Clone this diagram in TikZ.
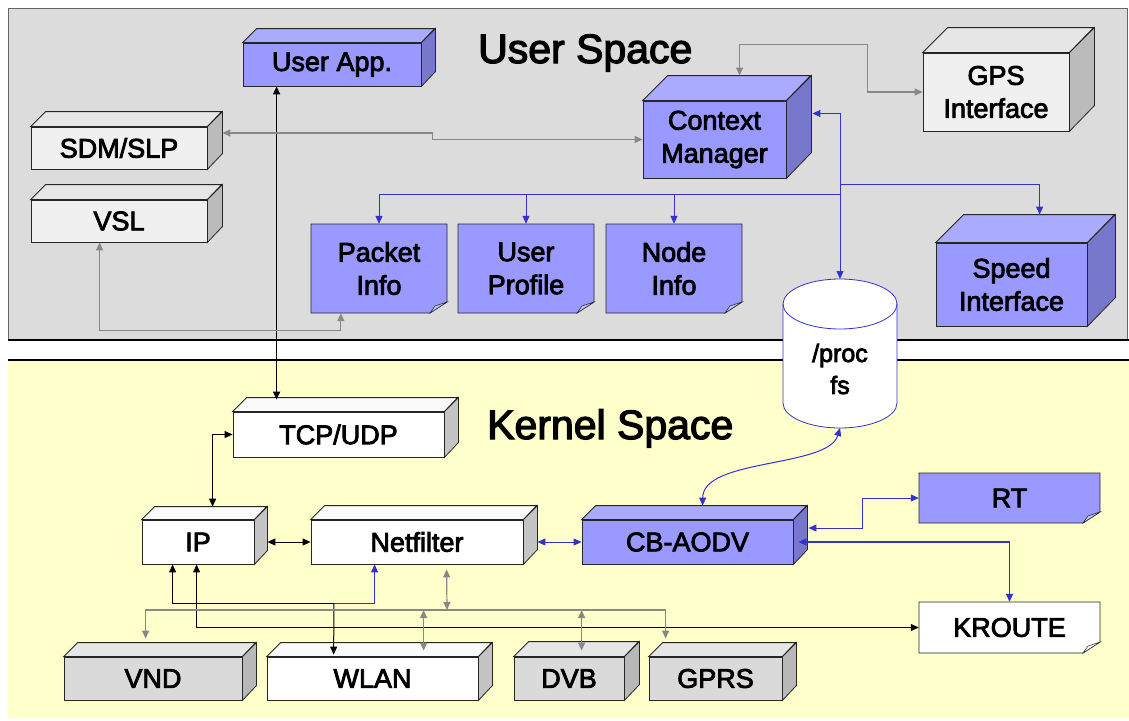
\documentclass[tikz,border=0pt]{standalone}
\usepackage{fontspec}
\setmainfont{Liberation Sans}
\newfontfamily\heavyfam{Liberation Sans}[FakeBold=3]
\usetikzlibrary{arrows.meta,calc}
\definecolor{blfront}{HTML}{9999FF}
\definecolor{bltop}{HTML}{AAAAFF}
\definecolor{blside}{HTML}{7777CC}
\definecolor{ugfront}{HTML}{F0F0F0}
\definecolor{ugtop}{HTML}{E6E6E6}
\definecolor{ugside}{HTML}{BBBBBB}
\definecolor{whfront}{HTML}{FFFFFF}
\definecolor{whtop}{HTML}{FAFAFA}
\definecolor{whside}{HTML}{C4C4C4}
\definecolor{kgfront}{HTML}{DADADA}
\definecolor{kgtop}{HTML}{E6E6E6}
\definecolor{kgside}{HTML}{B8B8B8}
\definecolor{usergray}{HTML}{DCDCDC}
\definecolor{kernyellow}{HTML}{FFFFCC}
\definecolor{linkblue}{HTML}{3333CC}
\definecolor{linkgray}{HTML}{888888}
\newcommand{\bxfont}{\heavyfam\fontsize{27}{33}\selectfont}
\newcommand{\hdfont}{\heavyfam\fontsize{41}{48}\selectfont}
\newcommand{\procfont}{\heavyfam\fontsize{25}{32}\selectfont}
% cube: name, x1, y1, x2, y2, depth, kind, text
\newcommand{\cube}[8]{%
  \node[cubefront, fill=#7front, minimum width={(#4-#2)*1pt}, minimum height={(#5-#3)*1pt}] (#1) at ({(#2+#4)/2},{(#3+#5)/2}) {#8};
  \filldraw[edge, fill=#7top] (#1.north west) -- ++(#6,-#6) -- ++({#4-#2},0) -- (#1.north east) -- cycle;
  \filldraw[edge, fill=#7side] (#1.north east) -- ++(#6,-#6) -- ++(0,{#5-#3}) -- (#1.south east) -- cycle;
}
% note: name, x1, y1, x2, y2, fill, text
\newcommand{\note}[7]{%
  \filldraw[edge, fill=#6] ({#2},{#3}) -- ({#4},{#3}) -- ({#4},{#5-11}) -- ({#4-17},{#5}) -- ({#2},{#5}) -- cycle;
  \filldraw[edge, line width=0.5pt, fill=#6!55!white] ({#4},{#5-11}) -- ({#4-12},{#5-7}) -- ({#4-17},{#5}) -- cycle;
  \node[notetext, minimum width={(#4-#2)*1pt}, minimum height={(#5-#3)*1pt}] (#1) at ({(#2+#4)/2},{(#3+#5)/2}) {#7};
}
\begin{document}
\begin{tikzpicture}[x=1pt,y=-1pt, >={Triangle[length=8pt,width=7pt]},
  edge/.style={draw=black!85, line width=0.8pt},
  cubefront/.style={edge, inner sep=0pt, align=center, font=\bxfont},
  notetext/.style={inner sep=0pt, align=center, font=\bxfont},
  blk/.style={draw=black, line width=1pt},
  blc/.style={draw=linkblue, line width=1pt},
  grc/.style={draw=linkgray, line width=1.2pt},
  heading/.style={anchor=base west, font=\hdfont, inner sep=0pt}]
\useasboundingbox (0,0) rectangle (1129,720);
\fill[white] (0,0) rectangle (1129,720);
% panels
\filldraw[fill=usergray, draw=black!60, line width=0.8pt] (8,8) rectangle (1127,340);
\fill[kernyellow] (8,361) rectangle (1129,718);
\draw[line width=2pt] (8,340) -- (1129,340);
\draw[line width=2pt] (8,360) -- (1129,360);
\node[heading] (us) at (478,63) {User Space};
\node[heading] (ks) at (487,439) {Kernel Space};
% /proc fs cylinder
\filldraw[fill=white, draw=linkblue, line width=0.8pt] (783,304) -- (783,403)
  arc[start angle=180, end angle=0, x radius=57, y radius=25] -- (897,304)
  arc[start angle=0, end angle=-180, x radius=57, y radius=25] -- cycle;
\draw[linkblue, line width=0.8pt] (783,304) arc[start angle=180, end angle=0, x radius=57, y radius=25];
\coordinate (proctop) at (840,279);
\coordinate (procbot) at (840,428);
\node[notetext, font=\procfont] (proc) at (840,369) {/proc\\fs};
% cubes
\cube{ua}{243}{43}{421}{86}{14}{bl}{User App.}
\cube{sdm}{31}{127}{207}{169}{15}{ug}{SDM/SLP}
\cube{vsl}{31}{200}{207}{242}{15}{ug}{VSL}
\cube{cm}{643}{101}{786}{178}{25}{bl}{Context\\Manager}
\cube{gps}{923}{53}{1069}{131}{25}{ug}{GPS\\Interface}
\cube{sp}{936}{243}{1087}{326}{28}{bl}{Speed\\Interface}
\cube{tcp}{233}{412}{444}{457}{14}{wh}{TCP/UDP}
\cube{ip}{142}{520}{254}{564}{13}{wh}{IP}
\cube{nf}{311}{520}{523}{564}{14}{wh}{Netfilter}
\cube{cb}{582}{520}{793}{564}{14}{bl}{CB-AODV}
\cube{vnd}{64}{657}{242}{700}{14}{kg}{VND}
\cube{wl}{267}{657}{478}{700}{14}{wh}{WLAN}
\cube{dvb}{514}{657}{624}{700}{15}{kg}{DVB}
\cube{gprs}{649}{657}{782}{700}{14}{kg}{GPRS}
% notes
\note{pk}{311}{224}{447}{313}{blfront}{Packet\\Info}
\note{up}{458}{224}{594}{313}{blfront}{User\\Profile}
\note{ni}{606}{224}{742}{313}{blfront}{Node\\Info}
\note{rt}{919}{473}{1100}{523}{blfront}{RT}
\note{kr}{919}{602}{1100}{653}{white}{KROUTE}
% user space connectors
\draw[blk, line width=1.6pt, <->] ([xshift=34pt]ua.south west) -- ([xshift=44pt,yshift=12pt]tcp.north west);
\draw[blc, <->] ([xshift=26pt,yshift=26pt]cm.east) -| (proctop);
\coordinate (bl) at (840,194);
\coordinate (br) at (840,184);
\draw[blc, ->] (bl) -| (pk.north);
\draw[blc, ->] (bl) -| (up.north);
\draw[blc, ->] (bl) -| (ni.north);
\draw[blc, ->] (br) -| ([xshift=104pt,yshift=28pt]sp.north west);
\draw[grc, <->] ([xshift=97pt,yshift=25pt]cm.north west) -- ++(0,-31) -- ++(128,0) |- (gps.west);
\draw[grc, <->] ([xshift=15pt,yshift=15pt]sdm.east) -- ++(210,0) |- (cm.west);
\draw[grc, <->] ([xshift=69pt]vsl.south west) -- ++(0,88) -| ([xshift=30pt]pk.south west);
% kernel connectors
\draw[blk, <->] ([xshift=71pt,yshift=13pt]ip.north west) |- (tcp.west);
\draw[blk, <->] ([xshift=13pt]ip.east) -- (nf.west);
\draw[blc, <->] ([xshift=14pt]nf.east) -- (cb.west);
\draw[blc, <->] (procbot) .. controls (828,468) and (703,458) .. ([xshift=121pt,yshift=14pt]cb.north west);
\draw[blc, <->] ([xshift=15pt,yshift=14pt]cb.east) -- ++(54,0) |- (rt.west);
\draw[blc, line width=1.6pt, <->] ([xshift=5pt]cb.east) -| (kr.north);
\coordinate (jn) at (334,603);
\draw[blk, ->] (jn) -| ([xshift=31pt]ip.south west);
\draw[blk, ->] (jn) -- ([xshift=67pt,yshift=2pt]wl.north west);
\draw[blc, ->] (jn) -| ([xshift=64pt]nf.south west);
\draw[blk, <->] ([xshift=55pt]ip.south west) |- (kr.west);
\coordinate (bus) at (447,610);
\draw[grc, ->] (bus) -| ([xshift=82pt,yshift=18pt]vnd.north west);
\draw[grc, ->] (bus) -| ([xshift=17pt,yshift=18pt]gprs.north west);
\draw[grc, <->] ([xshift=136pt,yshift=-5pt]nf.south west) -- (bus);
\coordinate (wlt) at ([xshift=157pt,yshift=6pt]wl.north west);
\coordinate (dvbt) at ([xshift=68pt,yshift=6pt]dvb.north west);
\draw[grc, <->] (wlt) -- (wlt |- bus);
\draw[grc, <->] (dvbt) -- (dvbt |- bus);
\end{tikzpicture}
\end{document}
